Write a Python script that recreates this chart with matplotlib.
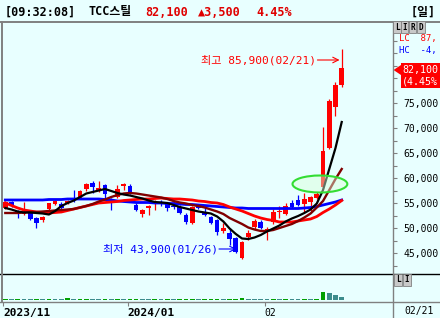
import numpy as np
import matplotlib
matplotlib.use('Agg')
import matplotlib.pyplot as plt
from matplotlib.patches import Rectangle, Ellipse, Polygon
from matplotlib.lines import Line2D
from matplotlib.ticker import MultipleLocator, FuncFormatter

plt.rcParams['font.family'] = ['DejaVu Sans Mono', 'Noto Sans CJK KR']

# 일봉 데이터 (2023/11/30 ~ 2024/02/21), 원
opens = [54000, 55200, 53400, 52800, 53000, 52000, 51600, 53800, 54800, 54800,
         55000, 56000, 56000, 57800, 59000, 57400, 58600, 55800, 56200, 58400,
         58400, 54600, 52800, 54000, 54800, 55200, 54800, 54400, 54200, 52600,
         51000, 54400, 53200, 52200, 51600, 49400, 49000, 48000, 44000, 48200,
         50200, 51200, 49400, 51200, 53200, 52800, 55000, 55600, 54800, 55200,
         56000, 58200, 66000, 74200, 78600]
highs = [55400, 55400, 53600, 55200, 53200, 52200, 52400, 55000, 55600, 55200,
         55600, 57600, 57600, 59000, 59400, 59400, 58800, 56000, 58600, 59000,
         58800, 55000, 53800, 54600, 55600, 55600, 55000, 55400, 54600, 53000,
         54400, 54800, 54200, 52400, 51800, 51000, 50000, 48200, 47400, 49600,
         51800, 51600, 50200, 53800, 54400, 55000, 55600, 56600, 57000, 56400,
         57200, 70200, 75800, 79200, 85900]
lows = [53800, 54200, 52000, 52600, 51600, 50000, 51200, 53400, 54600, 53800,
        54800, 55200, 55800, 57400, 57000, 57200, 56000, 53600, 56000, 57600,
        56800, 53400, 52200, 52600, 53600, 54400, 53400, 53800, 52800, 50800,
        50800, 53800, 52400, 50800, 48600, 49000, 46600, 45000, 43900, 47600,
        49800, 49800, 47600, 50800, 52000, 52600, 54000, 54400, 53000, 53400,
        55800, 58000, 65800, 72400, 78200]
closes = [55200, 54600, 52800, 53200, 51800, 51000, 52200, 55000, 55400, 54000,
          55400, 55600, 57400, 58800, 58200, 58000, 56800, 55000, 57800, 58800,
          57200, 53600, 53600, 54400, 55200, 54800, 54000, 54200, 53000, 51200,
          54200, 54000, 52600, 51000, 49200, 50000, 47800, 45200, 47200, 49000,
          51400, 50000, 49800, 53200, 53400, 54400, 54200, 54600, 55800, 56200,
          56800, 65400, 75400, 78600, 82100]
# 거래량 (천주)
volumes = [320, 240, 280, 220, 200, 260, 220, 340, 300, 220,
           380, 260, 300, 340, 280, 260, 300, 240, 260, 220,
           280, 300, 240, 200, 220, 180, 200, 160, 220, 260,
           300, 200, 220, 260, 300, 240, 260, 320, 380, 300,
           280, 240, 220, 320, 260, 280, 240, 200, 280, 260,
           300, 2000, 1750, 1150, 800]

# 이동평균
ma5 = [54000, 53700, 53300, 53100, 53100, 53000, 52900, 52700, 53400, 54400,
       55000, 55500, 56200, 56900, 57200, 57500, 57800, 57400, 57000, 56700,
       56500, 56200, 55900, 55500, 55200, 55100, 55000, 54600, 54200, 53900,
       53600, 53300, 53100, 52900, 52300, 51300, 49900, 48800, 47900, 47800,
       48100, 48600, 49300, 49900, 50500, 51300, 51900, 52400, 53000, 53700,
       54900, 57600, 61800, 66000, 71200]
ma10 = [53000, 53000, 53000, 53100, 53200, 53200, 53300, 53400, 53500, 53600,
        53700, 53800, 54100, 54400, 54800, 55300, 55700, 56200, 56600, 56900,
        57000, 56900, 56700, 56500, 56300, 56100, 55800, 55400, 55100, 54900,
        54600, 54400, 54100, 53700, 53300, 52800, 52000, 51400, 50800, 50100,
        49700, 49400, 49400, 49600, 50000, 50400, 50800, 51400, 52100, 52900,
        54100, 55400, 57600, 59800, 61800]
ma20 = [55000, 54500, 54000, 53600, 53400, 53200, 53100, 53000, 53100, 53200,
        53500, 53800, 54100, 54400, 54700, 55000, 55100, 55200, 55300, 55500,
        55600, 55700, 55800, 55800, 55900, 56000, 55900, 55800, 55800, 55700,
        55600, 55400, 55300, 55100, 55000, 54700, 54200, 53800, 53400, 52900,
        52400, 52000, 51700, 51500, 51200, 51200, 51200, 51400, 51600, 51800,
        52300, 53100, 53800, 54600, 55500]
ma60 = [55600, 55600, 55600, 55600, 55600, 55600, 55600, 55700, 55700, 55700,
        55800, 55800, 55800, 55800, 55800, 55800, 55700, 55600, 55400, 55300,
        55200, 55100, 55100, 55100, 55000, 55000, 54900, 54900, 54800, 54700,
        54700, 54600, 54500, 54400, 54300, 54200, 54100, 54000, 54000, 53900,
        53900, 53900, 53900, 53900, 53900, 53900, 53900, 53900, 54000, 54100,
        54300, 54600, 54900, 55200, 55600]

month_pos = [0, 20, 42]
month_labels = ['2023/11', '2024/01', '02']
month_bold = [True, True, False]
hi_label = '최고 85,900(02/21)'
lo_label = '최저 43,900(01/26)'

BG = '#e8ffff'
RED = '#ff0000'
BLUE = '#0000ff'
GRAY = '#808080'

W, H = 440, 318
fig = plt.figure(figsize=(4.4, 3.18), dpi=100, facecolor=BG)


def fx(x):
    return x / W


def fy(y):
    return 1 - y / H


ax = fig.add_axes([fx(3), fy(274), 390 / W, 252 / H], facecolor=BG)
axv = fig.add_axes([fx(3), fy(302), 390 / W, 28 / H], facecolor=BG)

n = len(closes)
idx = np.arange(n)
o = np.array(opens)
c = np.array(closes)
up = c >= o
cols = np.where(up, RED, BLUE)

# 캔들
ax.vlines(idx, lows, highs, colors=cols, lw=0.9, zorder=2)
body = np.maximum(np.abs(c - o), 150)
ax.bar(idx, body, bottom=np.minimum(o, c), width=0.75, color=cols, zorder=2)

# 이동평균선
ax.plot(idx, ma60, color=BLUE, lw=2.0, zorder=3)
ax.plot(idx, ma20, color=RED, lw=2.0, zorder=3)
ax.plot(idx, ma10, color='#800000', lw=1.7, zorder=3)
ax.plot(idx, ma5, color='black', lw=1.6, zorder=3)

ax.set_xlim(-0.37, 62.23)
ax.set_ylim(40800, 91200)
for s in ax.spines.values():
    s.set_visible(False)
ax.set_xticks([])
ax.yaxis.tick_right()
ax.yaxis.set_major_locator(MultipleLocator(2500))
ax.yaxis.set_major_formatter(FuncFormatter(
    lambda v, p: f'{v:,.0f}' if v % 5000 == 0 and v <= 75000 else ''))
ax.tick_params(axis='y', direction='out', length=2.9, width=0.8, colors=GRAY,
               labelcolor='black', pad=4.5, labelsize=7)

# 최고/최저 표시
hi_i = int(np.argmax(highs))
lo_i = int(np.argmin(lows))
hy = highs[hi_i] - 2300
ax.text(hi_i - 4.1, hy, hi_label, color=RED, fontsize=8, ha='right', va='center')
ax.annotate('', xy=(hi_i - 0.35, hy), xytext=(hi_i - 3.9, hy),
            arrowprops=dict(arrowstyle='->', color=RED, lw=0.8, shrinkA=0, shrinkB=0))
ly = lows[lo_i] + 1900
ax.text(lo_i - 3.9, ly, lo_label, color=BLUE, fontsize=8, ha='right', va='center')
ax.annotate('', xy=(lo_i - 0.9, ly), xytext=(lo_i - 3.7, ly),
            arrowprops=dict(arrowstyle='->', color=BLUE, lw=0.8, shrinkA=0, shrinkB=0))

# 돌파 구간 표시
ax.add_patch(Ellipse((n - 4.5, 58800), 8.8, 3400, facecolor=(0.85, 1.0, 0.85, 0.45),
                     edgecolor='#33dd33', lw=1.5, zorder=5))

# 거래량
vol = np.array(volumes)
vcols = ['#00a000' if i == 0 or vol[i] >= vol[i - 1] else '#3c8c8c' for i in range(n)]
axv.bar(idx, vol, width=0.75, color=vcols)
axv.set_xlim(-0.37, 62.23)
axv.set_ylim(-500, 6500)
for s in axv.spines.values():
    s.set_visible(False)
axv.set_yticks([])
axv.set_xticks(np.array(month_pos) - 0.35)
axv.set_xticklabels(month_labels)
axv.tick_params(axis='x', direction='out', length=3, width=0.8, colors=GRAY,
                labelcolor='black', pad=1, labelsize=8)
for lbl, b in zip(axv.get_xticklabels(), month_bold):
    lbl.set_ha('left')
    lbl.set_fontweight('bold' if b else 'normal')
    if not b:
        lbl.set_fontsize(7)

# 테두리
def hline(y, color, lw):
    fig.add_artist(Line2D([0, 1], [fy(y), fy(y)], transform=fig.transFigure,
                          color=color, lw=lw))


def vline(x, y0, y1, color, lw):
    fig.add_artist(Line2D([fx(x), fx(x)], [fy(y0), fy(y1)], transform=fig.transFigure,
                          color=color, lw=lw))


hline(22, GRAY, 1.4)
hline(274, 'black', 1.0)
hline(302, GRAY, 1.0)
vline(2, 22, 302, GRAY, 1.4)
vline(393, 22, 318, GRAY, 1.0)

# 제목줄
fig.text(fx(5), fy(12), '[09:32:08]', fontsize=8.5, weight='bold', va='center')
fig.text(fx(88), fy(12), 'TCC스틸', fontsize=8.5, weight='bold', va='center')
fig.text(fx(145), fy(12), '82,100', fontsize=8.5, weight='bold', va='center', color='#e00000')
fig.text(fx(198), fy(12), '▲3,500', fontsize=8.5, weight='bold', va='center', color='#e00000')
fig.text(fx(256), fy(12), '4.45%', fontsize=8.5, weight='bold', va='center', color='#e00000')
fig.text(fx(411), fy(12), '[일]', fontsize=8.5, weight='bold', va='center')

# 오른쪽 패널
for xc, ch in zip([397, 404.5, 412.5, 421], 'LIRD'):
    fig.text(fx(xc), fy(27), ch, fontsize=5.5, weight='bold', ha='center', va='center',
             bbox=dict(boxstyle='square,pad=0.2', fc='#c8c8c8', ec=GRAY, lw=0.6))
for xc, ch in zip([398, 407], 'LI'):
    fig.text(fx(xc), fy(280), ch, fontsize=5.5, weight='bold', ha='center', va='center',
             bbox=dict(boxstyle='square,pad=0.2', fc='#c8c8c8', ec=GRAY, lw=0.6))
fig.text(fx(399), fy(38.5), 'LC  87,', fontsize=6.5, color=RED, va='center',
         bbox=dict(boxstyle='square,pad=0.05', fc=BG, ec='none'))
fig.text(fx(399), fy(51), 'HC  -4,', fontsize=6.5, color=BLUE, va='center',
         bbox=dict(boxstyle='square,pad=0.05', fc=BG, ec='none'))
fig.add_artist(Rectangle((fx(401), fy(88)), 39 / W, 25 / H, transform=fig.transFigure,
                         fc=RED, ec='none'))
fig.add_artist(Polygon([[fx(393.5), fy(70)], [fx(401), fy(65)], [fx(401), fy(75)]],
                       closed=True, transform=fig.transFigure, fc=RED, ec='none'))
fig.text(fx(402), fy(70.5), f'{closes[-1]:,}', fontsize=7.2, color='white', va='center')
fig.text(fx(402), fy(82), '(4.45%', fontsize=7.2, color='white', va='center')
fig.text(fx(404), fy(311), '02/21', fontsize=7, va='center')

fig.savefig('out.png', dpi=100, facecolor=BG)
